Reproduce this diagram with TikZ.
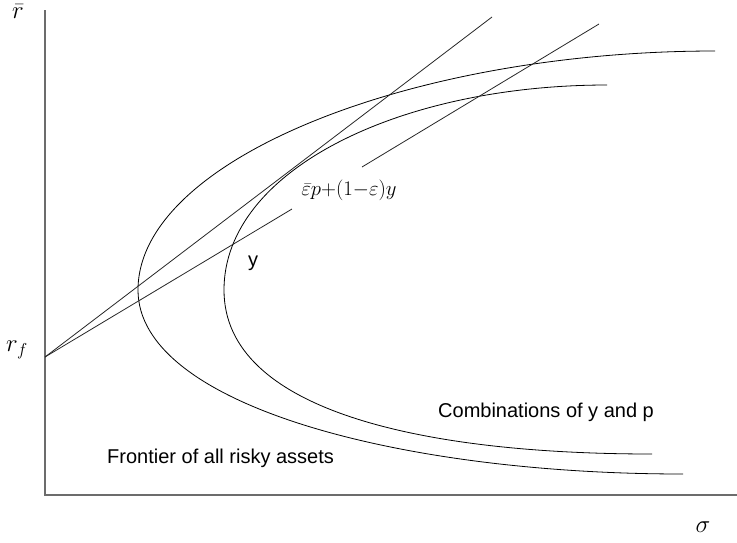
\documentclass[tikz,border=0pt]{standalone}
\usepackage{fontspec}
\setmainfont{Liberation Serif}
\newfontfamily\arialfont{Liberation Sans}
\begin{document}
\begin{tikzpicture}[x=1pt,y=-1pt,
  axisline/.style={draw=gray!85!black,line width=2pt},
  curve/.style={draw=black,line width=0.8pt},
  ray/.style={draw=black!85,line width=0.8pt},
  sanslabel/.style={font=\arialfont\fontsize{20}{22}\selectfont,inner sep=0pt},
  mathlabel/.style={inner sep=0pt}]
\useasboundingbox (0,0) rectangle (737,542);
% axes
\coordinate (ytop) at (45,10);
\coordinate (origin) at (45,495);
\coordinate (xend) at (737,495);
\draw[axisline] (ytop) -- (origin) -- (xend);
% frontier of all risky assets
\coordinate (fv) at (138,290);
\coordinate (ftop) at (715,51);
\coordinate (fbot) at (683,474);
\draw[curve] (ftop) .. controls (410,51) and (138,160) .. (fv)
             .. controls (138,405) and (400,474) .. (fbot);
% combinations of y and p
\coordinate (cv) at (224,290);
\coordinate (ctop) at (607,85);
\coordinate (cbot) at (652,454);
\draw[curve] (ctop) .. controls (400,85) and (224,170) .. (cv)
             .. controls (224,410) and (420,454) .. (cbot);
% rays from r_f
\coordinate (rf) at (45,357);
\coordinate (l1end) at (492,17);
\coordinate (l2a) at (292,209);
\coordinate (l2b) at (362,167);
\coordinate (l2end) at (599,24);
\draw[ray] (rf) -- (l1end);
\draw[ray] (rf) -- (l2a);
\draw[ray] (l2b) -- (l2end);
% labels
\node[mathlabel,font=\fontsize{26}{28}\selectfont] (rbar) at (18,12) {$\bar{r}$};
\node[mathlabel,font=\fontsize{24}{26}\selectfont] (rflab) at (17,350) {$r_f$};
\node[mathlabel,font=\fontsize{30}{32}\selectfont] (sig) at (703,527) {$\sigma$};
\node[mathlabel,font=\fontsize{22}{24}\selectfont] (mix) at (349,190) {$\bar{\varepsilon}p{+}(1{-}\varepsilon)y$};
\node[sanslabel,anchor=base] (ylab) at (253,266) {y};
\node[sanslabel,anchor=base west] (comb) at (438,417) {Combinations of y and p};
\node[sanslabel,anchor=base west] (front) at (107,463) {Frontier of all risky assets};
\end{tikzpicture}
\end{document}
